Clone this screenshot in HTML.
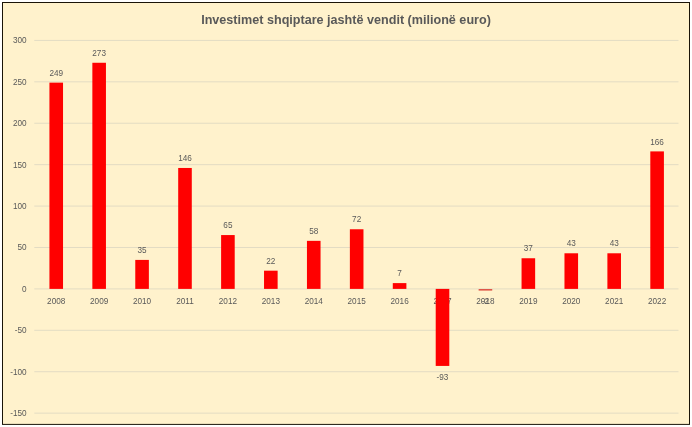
<!DOCTYPE html>
<html lang="sq"><head><meta charset="utf-8"><title>Investimet shqiptare jashtë vendit</title>
<style>
html,body{margin:0;padding:0;background:#fff;}
body{width:692px;height:427px;overflow:hidden;position:relative;font-family:"Liberation Sans",sans-serif;}
svg{position:absolute;left:0;top:0;display:block}
text{font-family:"Liberation Sans",sans-serif;fill:#595959}
.t{font-size:8.2px}
.title{font-size:12.6px;font-weight:bold}
</style></head><body>
<svg width="692" height="427" viewBox="0 0 692 427">
<rect x="0" y="0" width="692" height="427" fill="#ffffff"/>
<rect x="2.5" y="2.5" width="687" height="421.9" fill="#fff2cc" stroke="#1a1408" stroke-width="1"/>

<line x1="34.3" x2="678.5" y1="40.41" y2="40.41" stroke="#e3dcc3" stroke-width="1"/>
<text class="t" x="26.6" y="43.31" text-anchor="end">300</text>
<line x1="34.3" x2="678.5" y1="81.82" y2="81.82" stroke="#e3dcc3" stroke-width="1"/>
<text class="t" x="26.6" y="84.72" text-anchor="end">250</text>
<line x1="34.3" x2="678.5" y1="123.24" y2="123.24" stroke="#e3dcc3" stroke-width="1"/>
<text class="t" x="26.6" y="126.14" text-anchor="end">200</text>
<line x1="34.3" x2="678.5" y1="164.65" y2="164.65" stroke="#e3dcc3" stroke-width="1"/>
<text class="t" x="26.6" y="167.55" text-anchor="end">150</text>
<line x1="34.3" x2="678.5" y1="206.07" y2="206.07" stroke="#e3dcc3" stroke-width="1"/>
<text class="t" x="26.6" y="208.97" text-anchor="end">100</text>
<line x1="34.3" x2="678.5" y1="247.48" y2="247.48" stroke="#e3dcc3" stroke-width="1"/>
<text class="t" x="26.6" y="250.38" text-anchor="end">50</text>
<line x1="34.3" x2="678.5" y1="288.90" y2="288.90" stroke="#e3dcc3" stroke-width="1"/>
<text class="t" x="26.6" y="291.80" text-anchor="end">0</text>
<line x1="34.3" x2="678.5" y1="330.31" y2="330.31" stroke="#e3dcc3" stroke-width="1"/>
<text class="t" x="26.6" y="333.21" text-anchor="end">-50</text>
<line x1="34.3" x2="678.5" y1="371.73" y2="371.73" stroke="#e3dcc3" stroke-width="1"/>
<text class="t" x="26.6" y="374.63" text-anchor="end">-100</text>
<line x1="34.3" x2="678.5" y1="413.14" y2="413.14" stroke="#e3dcc3" stroke-width="1"/>
<text class="t" x="26.6" y="416.04" text-anchor="end">-150</text>
<text class="t" x="56.23" y="303.80" text-anchor="middle">2008</text>
<text class="t" x="99.15" y="303.80" text-anchor="middle">2009</text>
<text class="t" x="142.07" y="303.80" text-anchor="middle">2010</text>
<text class="t" x="184.99" y="303.80" text-anchor="middle">2011</text>
<text class="t" x="227.91" y="303.80" text-anchor="middle">2012</text>
<text class="t" x="270.83" y="303.80" text-anchor="middle">2013</text>
<text class="t" x="313.75" y="303.80" text-anchor="middle">2014</text>
<text class="t" x="356.67" y="303.80" text-anchor="middle">2015</text>
<text class="t" x="399.59" y="303.80" text-anchor="middle">2016</text>
<text class="t" x="442.51" y="303.80" text-anchor="middle">2017</text>
<text class="t" x="485.43" y="303.80" text-anchor="middle">2018</text>
<text class="t" x="528.35" y="303.80" text-anchor="middle">2019</text>
<text class="t" x="571.27" y="303.80" text-anchor="middle">2020</text>
<text class="t" x="614.19" y="303.80" text-anchor="middle">2021</text>
<text class="t" x="657.11" y="303.80" text-anchor="middle">2022</text>
<rect x="49.43" y="82.65" width="13.6" height="206.25" fill="#ff0000"/>
<rect x="92.35" y="62.77" width="13.6" height="226.13" fill="#ff0000"/>
<rect x="135.27" y="259.91" width="13.6" height="28.99" fill="#ff0000"/>
<rect x="178.19" y="167.97" width="13.6" height="120.93" fill="#ff0000"/>
<rect x="221.11" y="235.06" width="13.6" height="53.84" fill="#ff0000"/>
<rect x="264.03" y="270.68" width="13.6" height="18.22" fill="#ff0000"/>
<rect x="306.95" y="240.86" width="13.6" height="48.04" fill="#ff0000"/>
<rect x="349.87" y="229.26" width="13.6" height="59.64" fill="#ff0000"/>
<rect x="392.79" y="283.10" width="13.6" height="5.80" fill="#ff0000"/>
<rect x="435.71" y="288.90" width="13.6" height="77.03" fill="#ff0000"/>
<rect x="478.63" y="289.20" width="13.6" height="1.30" fill="#d9342a"/>
<rect x="521.55" y="258.25" width="13.6" height="30.65" fill="#ff0000"/>
<rect x="564.47" y="253.28" width="13.6" height="35.62" fill="#ff0000"/>
<rect x="607.39" y="253.28" width="13.6" height="35.62" fill="#ff0000"/>
<rect x="650.31" y="151.40" width="13.6" height="137.50" fill="#ff0000"/>
<text class="t" x="56.23" y="75.75" text-anchor="middle">249</text>
<text class="t" x="99.15" y="55.87" text-anchor="middle">273</text>
<text class="t" x="142.07" y="253.01" text-anchor="middle">35</text>
<text class="t" x="184.99" y="161.07" text-anchor="middle">146</text>
<text class="t" x="227.91" y="228.16" text-anchor="middle">65</text>
<text class="t" x="270.83" y="263.78" text-anchor="middle">22</text>
<text class="t" x="313.75" y="233.96" text-anchor="middle">58</text>
<text class="t" x="356.67" y="222.36" text-anchor="middle">72</text>
<text class="t" x="399.59" y="276.20" text-anchor="middle">7</text>
<text class="t" x="442.51" y="379.93" text-anchor="middle">-93</text>
<text class="t" x="485.43" y="303.90" text-anchor="middle">-2</text>
<text class="t" x="528.35" y="251.35" text-anchor="middle">37</text>
<text class="t" x="571.27" y="246.38" text-anchor="middle">43</text>
<text class="t" x="614.19" y="246.38" text-anchor="middle">43</text>
<text class="t" x="657.11" y="144.50" text-anchor="middle">166</text>
<text class="title" x="346" y="23.6" text-anchor="middle">Investimet shqiptare jashtë vendit (milionë euro)</text>
</svg></body></html>
